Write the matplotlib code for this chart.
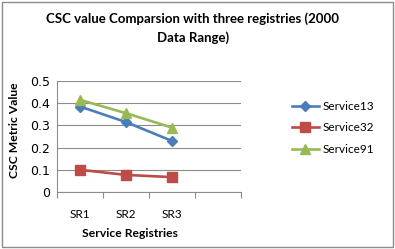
import matplotlib.pyplot as plt
from matplotlib.patches import Rectangle

# data
categories = ['SR1', 'SR2', 'SR3', '']
service13 = [0.385, 0.315, 0.23]
service32 = [0.1, 0.077, 0.067]
service91 = [0.415, 0.355, 0.29]
series_names = ['Service13', 'Service32', 'Service91']

W, H = 395, 249
fig = plt.figure(figsize=(W / 100, H / 100), dpi=100)

# outer chart border
fig.patches.append(Rectangle((2 / W, 2 / H), 391 / W, 245 / H, transform=fig.transFigure,
                             fill=False, edgecolor='#8c8c8c', linewidth=1))

ax = fig.add_axes([57 / W, (H - 192) / H, 184 / W, 111 / H])

x = [0, 1, 2]
ax.plot(x, service13, color='#4A7EBB', marker='D', markersize=5.5, linewidth=1.9, label=series_names[0])
ax.plot(x, service32, color='#BE4B48', marker='s', markersize=6.5, linewidth=1.9, label=series_names[1])
ax.plot(x, service91, color='#98B954', marker='^', markersize=7, linewidth=1.9, label=series_names[2])

ax.set_xlim(-0.5, 3.5)
ax.set_ylim(0, 0.5)
ax.set_yticks([0, 0.1, 0.2, 0.3, 0.4, 0.5])
ax.set_yticklabels(['0', '0.1', '0.2', '0.3', '0.4', '0.5'], fontsize=9, family='DejaVu Sans')
ax.yaxis.grid(True, color='#8c8c8c', linewidth=0.8)
ax.set_axisbelow(True)

# category ticks between slots, labels centred
ax.set_xticks([-0.5, 0.5, 1.5, 2.5, 3.5])
ax.set_xticklabels([])
ax.set_xticks([0, 1, 2], minor=True)
ax.set_xticklabels(categories[:3], minor=True, fontsize=8.5, family='Lato')
ax.tick_params(axis='x', which='major', length=4, color='#8c8c8c', direction='out')
ax.tick_params(axis='x', which='minor', length=0, pad=12)
ax.tick_params(axis='y', length=0, pad=5)

for s in ['top', 'right']:
    ax.spines[s].set_visible(False)
ax.spines['left'].set_color('#8c8c8c')
ax.spines['bottom'].set_color('#8c8c8c')

ax.set_ylabel('CSC Metric Value', fontsize=8.7, fontweight='bold', family='Lato')
ax.yaxis.set_label_coords(-(57 - 14) / 184, (192 - 130) / 111)
ax.set_xlabel('Service Registries', fontsize=8.7, fontweight='bold', family='Lato')
ax.xaxis.set_label_coords((130 - 57) / 184, -(233 - 192) / 111)
ax.xaxis.label.set_va('center')
ax.yaxis.label.set_va('center')

fig.text(193 / W, 1 - 19 / H, 'CSC value Comparsion with three registries (2000', ha='center', va='center',
         fontsize=9.5, fontweight='bold', family='Lato')
fig.text(193 / W, 1 - 38 / H, 'Data Range)', ha='center', va='center',
         fontsize=9.5, fontweight='bold', family='Lato')

fig.legend(loc='upper left', bbox_to_anchor=(287 / W, 1 - 96 / H), frameon=False,
           prop={'family': 'Lato', 'size': 8.5}, handlelength=2.3, handletextpad=0.3,
           labelspacing=0.9, borderaxespad=0)

fig.savefig('out.png', dpi=100)
